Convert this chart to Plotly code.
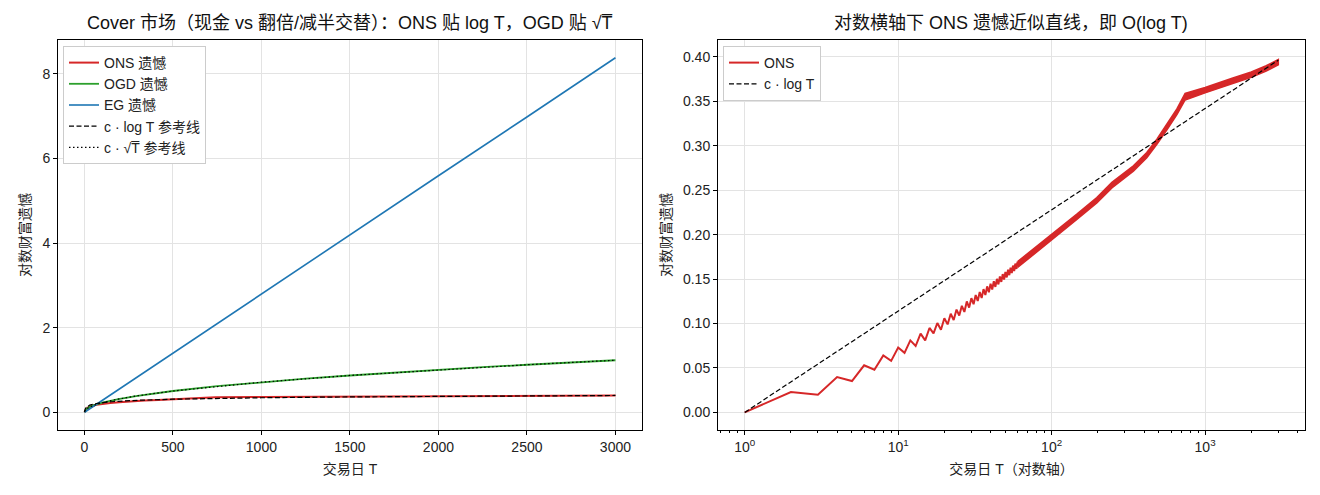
import plotly.graph_objects as go

# ---------------- data ----------------
# ONS regret, day by day for the visible zig-zag part (even days high, odd days low)
ons_zig_T = list(range(1, 61))
ons_zig_v = [0.0, 0.0229, 0.0200, 0.0398, 0.0353, 0.0530, 0.0480, 0.0640, 0.0580, 0.0730,
             0.0670, 0.0810, 0.0747, 0.0886, 0.0810, 0.0950, 0.0889, 0.1006, 0.0930, 0.1060,
             0.0990, 0.1110, 0.1040, 0.1157, 0.1090, 0.1199, 0.1130, 0.1248, 0.1180, 0.1285,
             0.1218, 0.1320, 0.1253, 0.1354, 0.1287, 0.1387, 0.1320, 0.1418, 0.1352, 0.1448,
             0.1383, 0.1476, 0.1412, 0.1503, 0.1440, 0.1530, 0.1468, 0.1556, 0.1494, 0.1581,
             0.1519, 0.1605, 0.1544, 0.1629, 0.1568, 0.1652, 0.1591, 0.1675, 0.1614, 0.1697]

# ONS dense zig-zag band (T >= 60): upper and lower envelope
ons_band_T = [60, 69, 101, 146, 197, 247, 341, 417, 485, 564, 655, 741,
              1000, 1500, 2000, 2500, 3000]
ons_band_hi = [0.1697, 0.1780, 0.2005, 0.2230, 0.2418, 0.2588, 0.2775, 0.2925,
               0.3075, 0.3245, 0.3415, 0.3590, 0.3655, 0.3760, 0.3830, 0.3900, 0.3970]
ons_band_lo = [0.1630, 0.1720, 0.1945, 0.2170, 0.2358, 0.2525, 0.2715, 0.2865,
               0.3015, 0.3180, 0.3350, 0.3515, 0.3595, 0.3700, 0.3770, 0.3840, 0.3910]

# OGD regret
ogd_T = [1, 5, 10, 25, 50, 100, 200, 300, 500, 750, 1000, 1250, 1500, 1750, 2000,
         2250, 2500, 2750, 3000]
ogd_v = [0.0, 0.050, 0.075, 0.115, 0.160, 0.225, 0.318, 0.389, 0.502, 0.615, 0.710,
         0.794, 0.869, 0.939, 1.004, 1.065, 1.122, 1.177, 1.229]

# EG regret
eg_T = [1, 500, 1000, 1500, 2000, 2500, 3000]
eg_v = [0.0, 1.40, 2.79, 4.19, 5.59, 6.98, 8.38]

# reference curves
ref_T = [1, 2, 3, 5, 10, 20, 30, 50, 75, 100, 150, 200, 300, 500, 750, 1000, 1500,
         2000, 2500, 3000]
ref_log_v = [0.0, 0.0343, 0.0544, 0.0797, 0.1140, 0.1483, 0.1683, 0.1936, 0.2137, 0.2280,
             0.2480, 0.2623, 0.2823, 0.3076, 0.3277, 0.3419, 0.3620, 0.3763, 0.3873, 0.3963]
ref_sqrt_v = [0.0225, 0.0318, 0.0389, 0.0502, 0.0710, 0.1004, 0.1230, 0.1588, 0.1944,
              0.2245, 0.2750, 0.3175, 0.3889, 0.5020, 0.6148, 0.7099, 0.8695, 1.0040,
              1.1225, 1.2297]

left_xticks = [0, 500, 1000, 1500, 2000, 2500, 3000]
left_yticks = [0, 2, 4, 6, 8]
right_xticks = [1, 10, 100, 1000]
right_xticktext = ["10<sup>0</sup>", "10<sup>1</sup>", "10<sup>2</sup>", "10<sup>3</sup>"]
right_minor = [0.7, 0.8, 0.9, 2, 3, 4, 5, 6, 7, 8, 9, 20, 30, 40, 50, 60, 70, 80, 90,
               200, 300, 400, 500, 600, 700, 800, 900, 2000, 3000, 4000]
right_yticks = [0.0, 0.05, 0.10, 0.15, 0.20, 0.25, 0.30, 0.35, 0.40]

# ---------------- styling ----------------
RED, GREEN, BLUE = "#d62728", "#2ca02c", "#1f77b4"
FONT = "Liberation Sans, Arial, Noto Sans CJK SC, sans-serif"
GRID = "#e3e3e3"
DASH = "5px,2.5px"
DOT = "1.5px,2.5px"
W, H = 1320, 495

fig = go.Figure()

# left panel ONS line: zig-zag then band middle
ons_left_T = ons_zig_T + ons_band_T[1:]
ons_left_v = ons_zig_v + [(a + b) / 2 for a, b in zip(ons_band_hi[1:], ons_band_lo[1:])]

fig.add_trace(go.Scatter(x=ons_left_T, y=ons_left_v, mode="lines", name="ONS 遗憾",
                         line=dict(color=RED, width=2), xaxis="x", yaxis="y", legend="legend"))
fig.add_trace(go.Scatter(x=ogd_T, y=ogd_v, mode="lines", name="OGD 遗憾",
                         line=dict(color=GREEN, width=1.8), xaxis="x", yaxis="y", legend="legend"))
fig.add_trace(go.Scatter(x=eg_T, y=eg_v, mode="lines", name="EG 遗憾",
                         line=dict(color=BLUE, width=1.6), xaxis="x", yaxis="y", legend="legend"))
fig.add_trace(go.Scatter(x=ref_T, y=ref_log_v, mode="lines", name="c · log T 参考线",
                         line=dict(color="black", width=1.2, dash=DASH),
                         xaxis="x", yaxis="y", legend="legend"))
fig.add_trace(go.Scatter(x=ref_T, y=ref_sqrt_v, mode="lines", name="c · √T̅ 参考线",
                         line=dict(color="black", width=1.2, dash=DOT),
                         xaxis="x", yaxis="y", legend="legend"))

# right panel
band_x = ons_band_T + ons_band_T[::-1]
band_y = ons_band_hi + ons_band_lo[::-1]
fig.add_trace(go.Scatter(x=band_x, y=band_y, mode="lines", fill="toself", fillcolor=RED,
                         line=dict(color=RED, width=1.5), showlegend=False,
                         hoverinfo="skip", xaxis="x2", yaxis="y2"))
fig.add_trace(go.Scatter(x=ons_zig_T, y=ons_zig_v, mode="lines", name="ONS",
                         line=dict(color=RED, width=2), xaxis="x2", yaxis="y2",
                         legend="legend2"))
fig.add_trace(go.Scatter(x=ref_T, y=ref_log_v, mode="lines", name="c · log T",
                         line=dict(color="black", width=1.2, dash=DASH),
                         xaxis="x2", yaxis="y2", legend="legend2"))

ydom = [1 - 430 / H, 1 - 40 / H]
axis_common = dict(showline=True, mirror=True, linecolor="black", linewidth=1,
                   ticks="outside", ticklen=4, tickcolor="black", tickwidth=1,
                   showgrid=True, gridcolor=GRID, gridwidth=1, zeroline=False,
                   tickfont=dict(size=14, color="#222"))

legend_common = dict(bgcolor="white", bordercolor="#cccccc", borderwidth=1,
                     font=dict(size=14, family=FONT, color="#222"),
                     xanchor="left", yanchor="top", tracegroupgap=0, itemwidth=30)

fig.update_layout(
    width=W, height=H, margin=dict(l=0, r=0, t=0, b=0),
    paper_bgcolor="white", plot_bgcolor="white",
    font=dict(family=FONT, color="#222"),
    xaxis=dict(domain=[58 / W, 642 / W], range=[-149, 3150], tickvals=left_xticks,
               anchor="y", title=dict(text="交易日 T", font=dict(size=14), standoff=10),
               **axis_common),
    yaxis=dict(domain=ydom, range=[-0.42, 8.8], tickvals=left_yticks, anchor="x",
               title=dict(text="对数财富遗憾", font=dict(size=14), standoff=8),
               **axis_common),
    xaxis2=dict(domain=[718 / W, 1305 / W], type="log", range=[-0.174, 3.651],
                tickvals=right_xticks, ticktext=right_xticktext, anchor="y2",
                minor=dict(ticks="outside", ticklen=2, tickcolor="black",
                           tickvals=right_minor, showgrid=False),
                title=dict(text="交易日 T（对数轴）", font=dict(size=14), standoff=10),
                **axis_common),
    yaxis2=dict(domain=ydom, range=[-0.0198, 0.419], tickvals=right_yticks,
                tickformat=".2f", anchor="x2",
                title=dict(text="对数财富遗憾", font=dict(size=14), standoff=8),
                **axis_common),
    legend=dict(x=63 / W, y=1 - 46 / H, **legend_common),
    legend2=dict(x=723 / W, y=1 - 46 / H, **legend_common),
    annotations=[
        dict(text="Cover 市场（现金 vs 翻倍/减半交替）：ONS 贴 log T，OGD 贴 √T̅",
             x=350 / W, y=1 - 23 / H, xref="paper", yref="paper", showarrow=False,
             xanchor="center", yanchor="middle", font=dict(size=18, color="#111")),
        dict(text="对数横轴下 ONS 遗憾近似直线，即 O(log T)",
             x=1011 / W, y=1 - 23 / H, xref="paper", yref="paper", showarrow=False,
             xanchor="center", yanchor="middle", font=dict(size=18, color="#111")),
    ],
)

fig.write_html("out.html")
